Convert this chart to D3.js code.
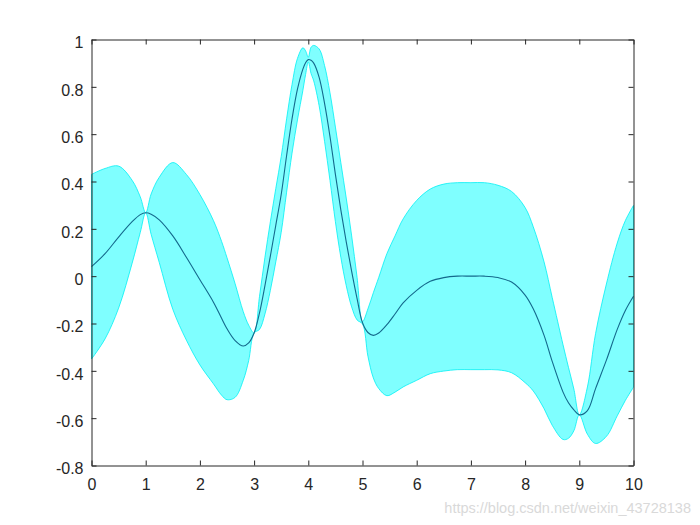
<!DOCTYPE html>
<html>
<head>
<meta charset="utf-8">
<script src="https://cdn.jsdelivr.net/npm/d3@7"></script>
<style>
  body { margin: 0; background: #fff; }
  text { font-family: "Liberation Sans", Arial, Helvetica, sans-serif; }
</style>
</head>
<body>
<div id="chart"></div>
<script>
// sample positions along x
var xs = [0, 0.25, 0.5, 0.75, 0.9, 1.0, 1.1, 1.25, 1.5, 1.75, 2.0, 2.25, 2.4, 2.5, 2.65, 2.8, 2.9,
          3.0, 3.1, 3.2, 3.3, 3.4, 3.5, 3.6, 3.7, 3.8, 3.9, 3.95, 4.0, 4.05, 4.1, 4.2, 4.3,
          4.4, 4.5, 4.6, 4.7, 4.8, 4.9, 5.0, 5.1, 5.2, 5.3, 5.45, 5.6, 5.75, 6.0, 6.25, 6.5,
          6.75, 7.0, 7.25, 7.5, 7.75, 8.0, 8.15, 8.35, 8.5, 8.7, 8.8, 8.9, 9.0, 9.15, 9.3, 9.5,
          9.7, 9.85, 10.0];

// predicted mean
var meanVals = [0.04, 0.095, 0.165, 0.23, 0.26, 0.268, 0.262, 0.238, 0.17, 0.08, -0.015, -0.11, -0.178, -0.222, -0.272, -0.295, -0.282,
                -0.24, -0.155, -0.04, 0.085, 0.215, 0.345, 0.51, 0.665, 0.79, 0.875, 0.902, 0.915, 0.912, 0.9, 0.84, 0.73,
                0.59, 0.43, 0.28, 0.145, 0.02, -0.095, -0.197, -0.238, -0.25, -0.24, -0.205, -0.16, -0.113, -0.06, -0.022, -0.006,
                0, 0, 0, -0.006, -0.025, -0.08, -0.138, -0.25, -0.36, -0.49, -0.535, -0.565, -0.586, -0.568, -0.475, -0.355,
                -0.225, -0.145, -0.085];

// half width of the confidence band
var spreadVals = [0.39, 0.36, 0.30, 0.175, 0.075, 0.0, 0.085, 0.18, 0.31, 0.35, 0.36, 0.345, 0.325, 0.30, 0.24, 0.145, 0.075,
                  0.0, 0.07, 0.12, 0.145, 0.155, 0.16, 0.155, 0.145, 0.13, 0.09, 0.05, 0.01, 0.055, 0.075, 0.12, 0.16,
                  0.185, 0.2, 0.2, 0.185, 0.15, 0.09, 0.005, 0.1, 0.18, 0.235, 0.30, 0.33, 0.355, 0.38, 0.39, 0.395,
                  0.395, 0.395, 0.395, 0.39, 0.383, 0.37, 0.347, 0.31, 0.27, 0.2, 0.15, 0.088, 0.0, 0.1, 0.232, 0.322,
                  0.365, 0.38, 0.384];

var xTicks = [0, 1, 2, 3, 4, 5, 6, 7, 8, 9, 10];
var yTicks = [-0.8, -0.6, -0.4, -0.2, 0, 0.2, 0.4, 0.6, 0.8, 1];

var width = 700, height = 525;
var plotLeft = 91.5, plotRight = 633.5, plotTop = 39.5, plotBottom = 465.5;
var axisColor = "#262626";

var svg = d3.select("#chart").append("svg")
    .attr("width", width).attr("height", height);

var x = d3.scaleLinear().domain([0, 10]).range([plotLeft, plotRight]);
var y = d3.scaleLinear().domain([-0.8, 1]).range([plotBottom, plotTop]);

var rows = xs.map(function(d, i) {
  return { x: d, m: meanVals[i], s: spreadVals[i] };
});

var band = d3.area()
    .x(function(d) { return x(d.x); })
    .y0(function(d) { return y(d.m - d.s); })
    .y1(function(d) { return y(d.m + d.s); })
    .curve(d3.curveCatmullRom.alpha(0.5));

var line = d3.line()
    .x(function(d) { return x(d.x); })
    .y(function(d) { return y(d.m); })
    .curve(d3.curveCatmullRom.alpha(0.5));

svg.append("path")
    .datum(rows)
    .attr("d", band)
    .attr("fill", "#00ffff")
    .attr("fill-opacity", 0.5)
    .attr("stroke", "#00f0f4")
    .attr("stroke-width", 0.8);

svg.append("path")
    .datum(rows)
    .attr("d", line)
    .attr("fill", "none")
    .attr("stroke", "#14698c")
    .attr("stroke-width", 1.1);

var fmt = function(d) { return String(+d.toFixed(1)); };

var gx = svg.append("g")
    .attr("transform", "translate(0," + plotBottom + ")")
    .call(d3.axisBottom(x).tickValues(xTicks).tickFormat(fmt).tickSizeInner(-5).tickSizeOuter(0).tickPadding(13));
var gy = svg.append("g")
    .attr("transform", "translate(" + plotLeft + ",0)")
    .call(d3.axisLeft(y).tickValues(yTicks).tickFormat(fmt).tickSizeInner(-5).tickSizeOuter(0).tickPadding(8));
var gt = svg.append("g")
    .attr("transform", "translate(0," + plotTop + ")")
    .call(d3.axisTop(x).tickValues(xTicks).tickFormat("").tickSizeInner(-5).tickSizeOuter(0));
var gr = svg.append("g")
    .attr("transform", "translate(" + plotRight + ",0)")
    .call(d3.axisRight(y).tickValues(yTicks).tickFormat("").tickSizeInner(-5).tickSizeOuter(0));

[gx, gy, gt, gr].forEach(function(g) {
  g.selectAll("path, line").attr("stroke", axisColor);
  g.selectAll("text")
      .attr("fill", axisColor)
      .style("font-family", "'Liberation Sans', Arial, sans-serif")
      .style("font-size", "16px");
});
gy.selectAll("text").attr("dy", "0.52em");

svg.append("text")
    .attr("x", 691)
    .attr("y", 513)
    .attr("text-anchor", "end")
    .attr("fill", "#d9d9d9")
    .style("font-size", "14.5px")
    .text("https://blog.csdn.net/weixin_43728138");
</script>
</body>
</html>
